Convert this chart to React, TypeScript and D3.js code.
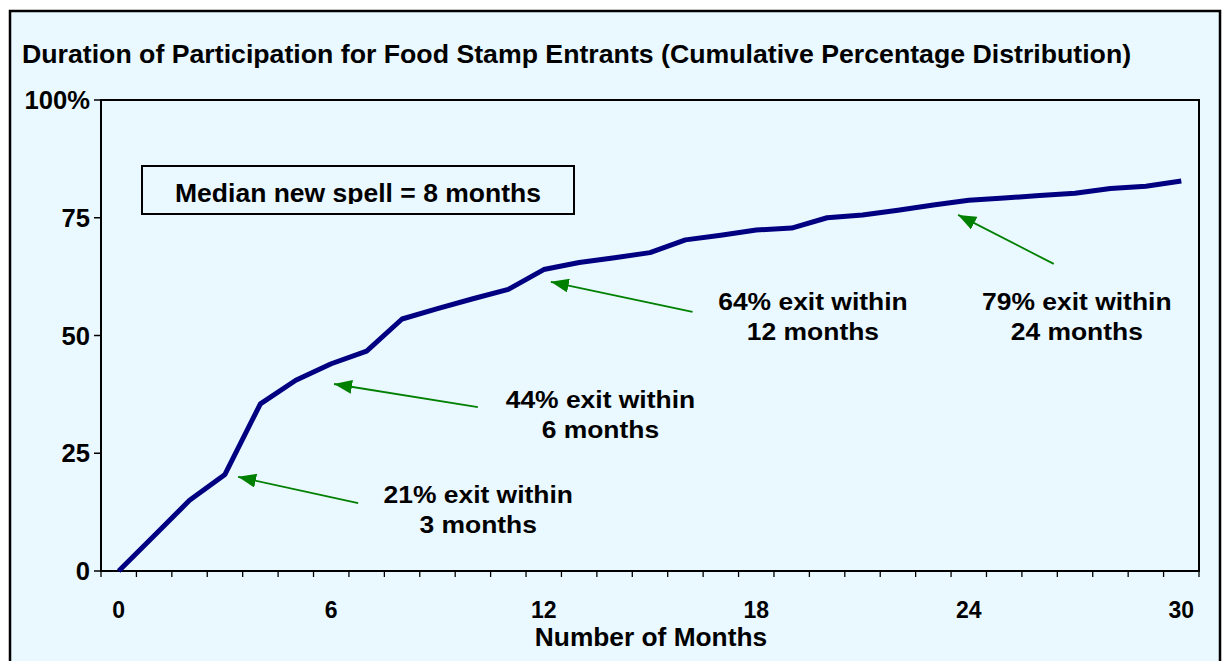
import React from 'react';
import * as d3 from 'd3';

const months = d3.range(0, 31);
const cumulativePct = [
  0, 7.5, 15, 20.5, 35.5, 40.5, 44, 46.7, 53.5, 55.7, 57.8, 59.8, 64, 65.5, 66.5, 67.6,
  70.3, 71.3, 72.4, 72.8, 75, 75.6, 76.6, 77.7, 78.7, 79.2, 79.7, 80.2, 81.2, 81.7, 82.8,
];
const xTickLabels = [0, 6, 12, 18, 24, 30];
const yTickValues = [0, 25, 50, 75, 100];
const yTickLabels = ['0', '25', '50', '75', '100%'];

// annotation arrows, in data units (month, percent)
const arrowTails = [[6.76, 14.4], [10.14, 34.8], [16.2, 55.0], [26.4, 65.2]];
const arrowTips = [[3.37, 20.0], [6.08, 39.7], [12.2, 61.4], [23.7, 75.6]];
const noteAnchors = [[10.15, 14.4], [13.6, 34.6], [19.6, 55.4], [27.05, 55.4]];
const noteLines = [
  ['21% exit within', '3 months'],
  ['44% exit within', '6 months'],
  ['64% exit within', '12 months'],
  ['79% exit within', '24 months'],
];

const title = 'Duration of Participation for Food Stamp Entrants (Cumulative Percentage Distribution)';
const medianNote = 'Median new spell = 8 months';
const xTitle = 'Number of Months';

const font = 'Arial, "Liberation Sans", sans-serif';

const App = () => {
  const width = 1222;
  const height = 661;
  const left = 101, right = 1199, top = 100, bottom = 571;

  const x = d3.scaleBand<number>().domain(months).range([left, right]);
  const bw = x.bandwidth();
  const xc = (m: number) => left + (m + 0.5) * bw;
  const y = d3.scaleLinear().domain([0, 100]).range([bottom, top]);

  const line = d3.line<number>()
    .x((_, i) => xc(months[i]))
    .y(d => y(d));

  const tickXs = d3.range(0, 32).map(i => left + i * bw);

  return (
    <svg width={width} height={height} style={{ position: 'absolute', left: 0, top: 0 }}>
      <defs>
        <marker id="ah" markerUnits="userSpaceOnUse" markerWidth="20" markerHeight="14"
          refX="18" refY="7" orient="auto">
          <path d="M0,0 L18,7 L0,14 Z" fill="#008000" />
        </marker>
        <clipPath id="boxclip">
          <rect x={142} y={166} width={432} height={38} />
        </clipPath>
      </defs>
      <rect x={0} y={0} width={width} height={height} fill="#fff" />
      <rect x={10} y={11} width={1210} height={680} fill="#eaf8ff" stroke="#000" strokeWidth={2.5} />

      <text x={22} y={63} fontFamily={font} fontWeight="bold" fontSize={26.7} fill="#000">{title}</text>

      {/* plot frame */}
      <rect x={left} y={top} width={right - left} height={bottom - top} fill="none" stroke="#000" strokeWidth={2} />

      {/* y axis */}
      {yTickValues.map((v, i) => (
        <g key={v}>
          <line x1={left - 7} x2={left} y1={y(v)} y2={y(v)} stroke="#000" strokeWidth={1.5} />
          <text x={90} y={y(v) + 9} textAnchor="end" fontFamily={font} fontWeight="bold" fontSize={25.6} fill="#000">
            {yTickLabels[i]}
          </text>
        </g>
      ))}

      {/* x axis */}
      {tickXs.map((t, i) => (
        <line key={i} x1={t} x2={t} y1={bottom} y2={bottom + 6} stroke="#000" strokeWidth={1.3} />
      ))}
      {xTickLabels.map(m => (
        <text key={m} x={xc(m)} y={618} textAnchor="middle" fontFamily={font} fontWeight="bold" fontSize={23} fill="#000">
          {m}
        </text>
      ))}
      <text x={651} y={646} textAnchor="middle" fontFamily={font} fontWeight="bold" fontSize={26.3} fill="#000">{xTitle}</text>

      {/* median box */}
      <rect x={142} y={166} width={432} height={48} fill="none" stroke="#000" strokeWidth={2} />
      <text x={358} y={202} textAnchor="middle" fontFamily={font} fontWeight="bold" fontSize={26.5} fill="#000"
        clipPath="url(#boxclip)">{medianNote}</text>

      {/* series */}
      <path d={line(cumulativePct) || ''} fill="none" stroke="#000080" strokeWidth={5} strokeLinejoin="round" />

      {/* arrows */}
      {arrowTails.map((t, i) => (
        <line key={i} x1={xc(t[0])} y1={y(t[1])} x2={xc(arrowTips[i][0])} y2={y(arrowTips[i][1])}
          stroke="#008000" strokeWidth={1.8} markerEnd="url(#ah)" />
      ))}
      {noteAnchors.map((a, i) => (
        <text key={i} transform={`translate(${xc(a[0])},${y(a[1])}) scale(1.15,1)`} textAnchor="middle"
          fontFamily={font} fontWeight="bold" fontSize={23} fill="#000">
          <tspan x={0} dy={0}>{noteLines[i][0]}</tspan>
          <tspan x={0} dy={30}>{noteLines[i][1]}</tspan>
        </text>
      ))}
    </svg>
  );
};

export default App;
